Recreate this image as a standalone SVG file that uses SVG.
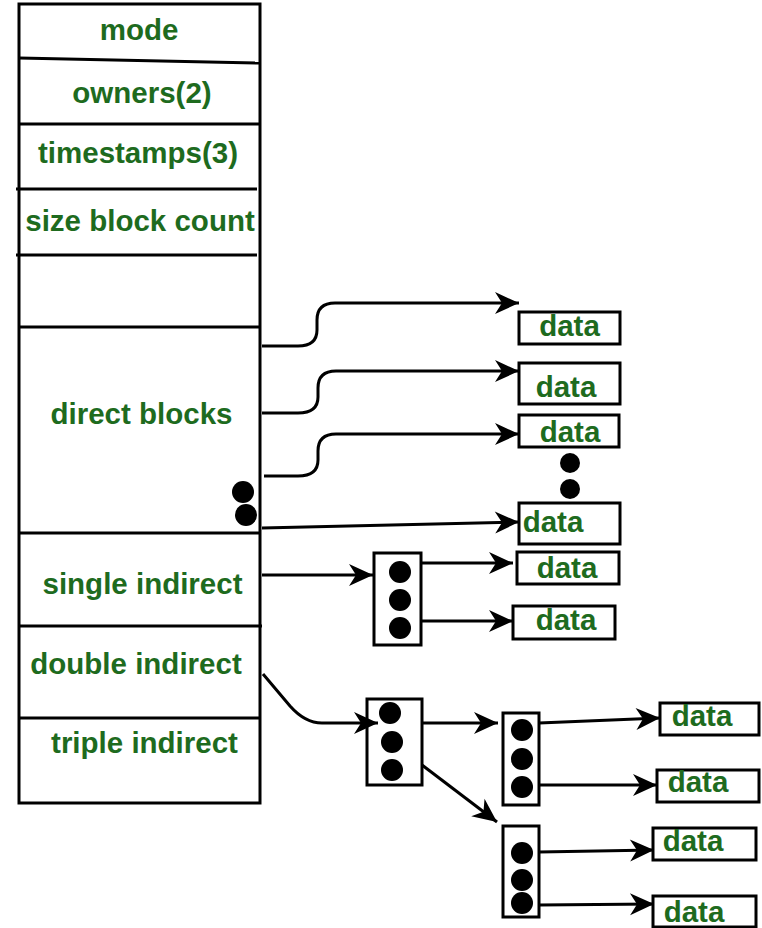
<svg xmlns="http://www.w3.org/2000/svg" width="762" height="928" viewBox="0 0 762 928">
<style>
.box{fill:#fff;stroke:#000;stroke-width:3}
.ln{fill:none;stroke:#000;stroke-width:3}
.t{font-family:"Liberation Sans",Arial,sans-serif;font-weight:bold;font-size:29.5px;fill:#1e6b1e}
.c{text-anchor:middle}
.dot{fill:#000}
</style>
<defs>
<marker id="ah" markerUnits="userSpaceOnUse" markerWidth="26" markerHeight="24" refX="24" refY="11" orient="auto" overflow="visible">
<path d="M0,0 L24,11 L0,22 L7,11 Z" fill="#000"/>
</marker>
</defs>
<rect width="762" height="928" fill="#fff"/>

<g id="inode">
<rect class="box" x="19" y="4" width="241" height="799"/>
<line class="ln" x1="19" y1="58" x2="260" y2="63"/>
<line class="ln" x1="19" y1="124" x2="260" y2="124"/>
<line class="ln" x1="16" y1="189" x2="257" y2="189"/>
<line class="ln" x1="16" y1="255" x2="257" y2="255"/>
<line class="ln" x1="19" y1="327" x2="260" y2="327"/>
<line class="ln" x1="19" y1="533" x2="260" y2="533"/>
<line class="ln" x1="19" y1="626" x2="262" y2="626"/>
<line class="ln" x1="19" y1="718" x2="260" y2="718"/>
<text class="t c" x="139" y="40">mode</text>
<text class="t c" x="142" y="103">owners(2)</text>
<text class="t c" x="138" y="163">timestamps(3)</text>
<text class="t c" x="140" y="231">size block count</text>
<text class="t c" x="141.5" y="424">direct blocks</text>
<circle class="dot" cx="243" cy="492" r="11"/>
<circle class="dot" cx="246" cy="515" r="11"/>
<text class="t c" x="142.5" y="594">single indirect</text>
<text class="t c" x="136" y="674">double indirect</text>
<text class="t c" x="144.5" y="753">triple indirect</text>
</g>

<g id="data1"><rect class="box" x="519" y="312" width="101" height="32"/><text class="t c" x="569.5" y="336">data</text></g>
<g id="data2"><rect class="box" x="519" y="363" width="101" height="41"/><text class="t c" x="566" y="397">data</text></g>
<g id="data3"><rect class="box" x="519" y="415" width="100" height="32"/><text class="t c" x="570" y="442">data</text></g>
<g id="ellipsis"><circle class="dot" cx="570" cy="463" r="10"/><circle class="dot" cx="570" cy="489" r="10"/></g>
<g id="data4"><rect class="box" x="519" y="503" width="101" height="41"/><text class="t c" x="553" y="532">data</text></g>

<g id="single-index">
<rect class="box" x="374" y="553" width="47" height="92"/>
<circle class="dot" cx="400" cy="572" r="11"/>
<circle class="dot" cx="400" cy="600" r="11"/>
<circle class="dot" cx="400" cy="628" r="11"/>
</g>
<g id="dataA"><rect class="box" x="517" y="552" width="102" height="32"/><text class="t c" x="567" y="578">data</text></g>
<g id="dataB"><rect class="box" x="513" y="606" width="102" height="33"/><text class="t c" x="566" y="630">data</text></g>

<g id="double-index">
<rect class="box" x="367" y="699" width="55" height="86"/>
<circle class="dot" cx="390" cy="713" r="11"/>
<circle class="dot" cx="392" cy="742" r="11"/>
<circle class="dot" cx="392" cy="770" r="11"/>
</g>
<g id="index2a">
<rect class="box" x="503" y="713" width="36" height="92"/>
<circle class="dot" cx="522" cy="730" r="11"/>
<circle class="dot" cx="522" cy="759" r="11"/>
<circle class="dot" cx="522" cy="787" r="11"/>
</g>
<g id="index2b">
<rect class="box" x="503" y="826" width="36" height="91"/>
<circle class="dot" cx="522" cy="853" r="11"/>
<circle class="dot" cx="522" cy="880" r="11"/>
<circle class="dot" cx="522" cy="903" r="11"/>
</g>
<g id="dataC"><rect class="box" x="660" y="703" width="99" height="32"/><text class="t c" x="702" y="726">data</text></g>
<g id="dataD"><rect class="box" x="657" y="770" width="102" height="32"/><text class="t c" x="698" y="792">data</text></g>
<g id="dataE"><rect class="box" x="653" y="828" width="103" height="32"/><text class="t c" x="693" y="851">data</text></g>
<g id="dataF"><rect class="box" x="653" y="896" width="103" height="31"/><text class="t c" x="694" y="922">data</text></g>

<g id="connectors">
<path class="ln" marker-end="url(#ah)" d="M262,346 L298,346 Q317,346 317,330 L317,320 Q317,303 335,303 L519,303"/>
<path class="ln" marker-end="url(#ah)" d="M262,413 L298,413 Q318,413 318,397 L318,388 Q318,371 336,371 L519,371"/>
<path class="ln" marker-end="url(#ah)" d="M264,476 L298,476 Q318,476 318,460 L318,451 Q318,434 336,434 L519,434"/>
<path class="ln" marker-end="url(#ah)" d="M262,528 L519,522"/>
<path class="ln" marker-end="url(#ah)" d="M262,575 L373,575"/>
<path class="ln" marker-end="url(#ah)" d="M421,563 L513,563"/>
<path class="ln" marker-end="url(#ah)" d="M421,621 L513,621"/>
<path class="ln" marker-end="url(#ah)" d="M263,674 L290,706 Q305,723 322,723 L378,723"/>
<path class="ln" marker-end="url(#ah)" d="M422,723 L498,723"/>
<path class="ln" marker-end="url(#ah)" d="M422,765 L497,822"/>
<path class="ln" marker-end="url(#ah)" d="M539,723 L660,718"/>
<path class="ln" marker-end="url(#ah)" d="M539,785 L657,785"/>
<path class="ln" marker-end="url(#ah)" d="M539,852 L654,850"/>
<path class="ln" marker-end="url(#ah)" d="M539,905 L654,904"/>
</g>
</svg>
